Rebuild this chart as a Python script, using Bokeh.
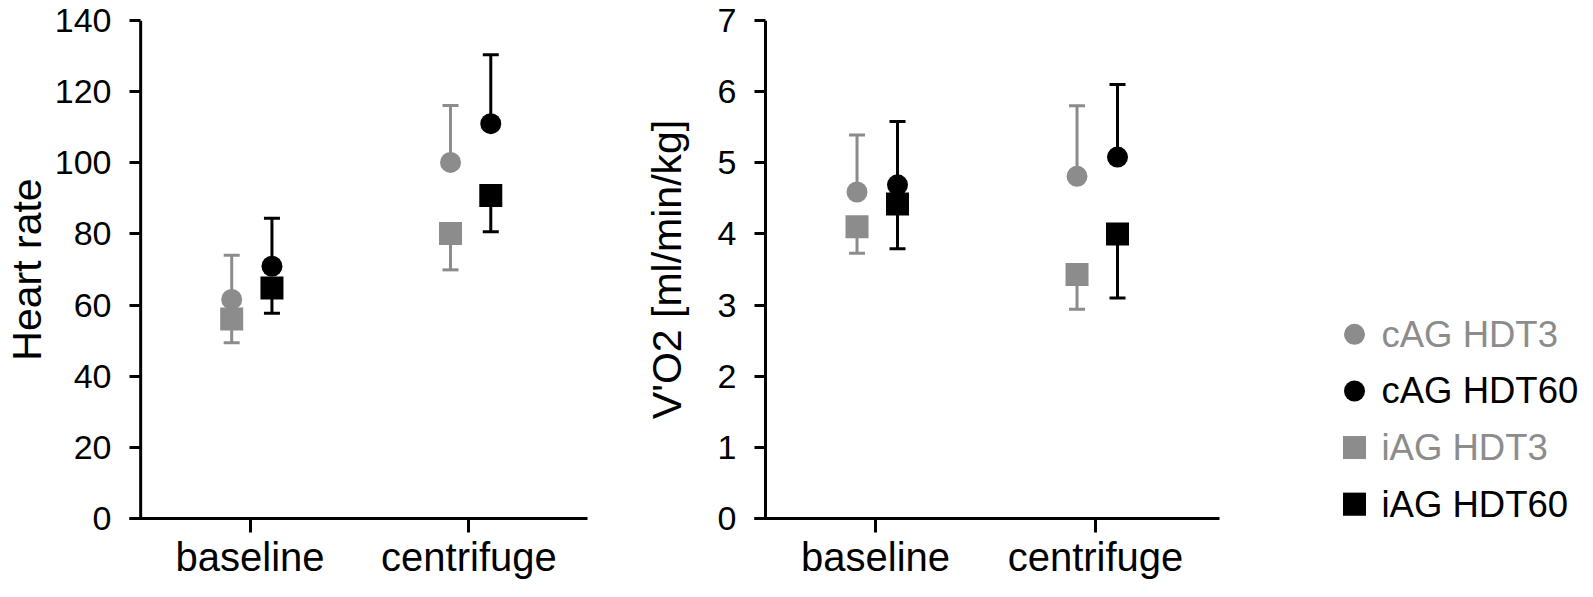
from bokeh.plotting import figure
from bokeh.models import Range1d, Span, Whisker, TeeHead, ColumnDataSource, FixedTicker
from bokeh.layouts import row
from bokeh.embed import file_html
from bokeh.resources import INLINE
from bokeh.core.properties import value

# ---------------- data ----------------
categories = ["baseline", "centrifuge"]
series_names = ["cAG HDT3", "cAG HDT60", "iAG HDT3", "iAG HDT60"]

# Heart rate (mean, SD)
hr_cag_hdt3 = [61.6, 100.1]
hr_cag_hdt3_sd = [12.4, 16.0]
hr_cag_hdt60 = [70.9, 111.0]
hr_cag_hdt60_sd = [13.5, 19.4]
hr_iag_hdt3 = [56.1, 80.1]
hr_iag_hdt3_sd = [6.7, 10.2]
hr_iag_hdt60 = [64.8, 90.8]
hr_iag_hdt60_sd = [7.1, 10.2]

# V'O2 (mean, SD)
vo2_cag_hdt3 = [4.59, 4.81]
vo2_cag_hdt3_sd = [0.80, 0.99]
vo2_cag_hdt60 = [4.69, 5.08]
vo2_cag_hdt60_sd = [0.89, 1.02]
vo2_iag_hdt3 = [4.10, 3.43]
vo2_iag_hdt3_sd = [0.37, 0.49]
vo2_iag_hdt60 = [4.42, 4.00]
vo2_iag_hdt60_sd = [0.63, 0.90]

hr_ticks = [0, 20, 40, 60, 80, 100, 120, 140]
vo2_ticks = [0, 1, 2, 3, 4, 5, 6, 7]

# ---------------- styles ----------------
FONT = "Liberation Sans"
GRAY = "#8c8c8c"
BLACK = "#000000"
series_colors = [GRAY, BLACK, GRAY, BLACK]
series_markers = ["circle", "circle", "square", "square"]
series_sizes = [21, 21, 23, 23]
series_offsets = [-0.084, 0.10, -0.084, 0.10]
series_err_up = [True, True, False, False]

PAGE = 8
BORDER_TOP = 20
BORDER_BOTTOM = 62
HEIGHT = 581
FRAME_H = HEIGHT - BORDER_TOP - BORDER_BOTTOM


def panel(means_list, sd_list, y_end, ticks, ylabel, x_start, x_end, frame_w,
          border_left, label_standoff):
    p = figure(width=border_left + frame_w + 10, height=HEIGHT,
               x_range=Range1d(x_start, x_end), y_range=Range1d(0, y_end),
               output_backend="svg", toolbar_location=None,
               min_border_left=border_left, min_border_right=10,
               min_border_top=BORDER_TOP, min_border_bottom=BORDER_BOTTOM)
    p.outline_line_color = None
    p.xgrid.visible = False
    p.ygrid.visible = False
    p.background_fill_color = "white"
    p.border_fill_color = "white"

    xs_base = [i + 1 for i in range(len(categories))]
    for i, name in enumerate(series_names):
        means = means_list[i]
        sds = sd_list[i]
        color = series_colors[i]
        xs = [x + series_offsets[i] for x in xs_base]
        if series_err_up[i]:
            lower = list(means)
            upper = [m + s for m, s in zip(means, sds)]
        else:
            lower = [m - s for m, s in zip(means, sds)]
            upper = list(means)
        src = ColumnDataSource(dict(x=xs, y=means, lower=lower, upper=upper))
        head = TeeHead(size=16, line_width=3, line_color=color)
        w = Whisker(base="x", lower="lower", upper="upper", source=src,
                    dimension="height", line_width=3, line_color=color,
                    level="underlay",
                    upper_head=head if series_err_up[i] else None,
                    lower_head=None if series_err_up[i] else head)
        p.add_layout(w)
        p.scatter("x", "y", source=src, marker=series_markers[i],
                  size=series_sizes[i], fill_color=color, line_color=None)

    # y axis line drawn as a span so that the x axis extends left of it
    p.add_layout(Span(location=0.5, dimension="height", line_width=3,
                      line_color="black"))

    xa = p.xaxis[0]
    xa.ticker = FixedTicker(ticks=xs_base)
    xa.major_label_overrides = {x: c for x, c in zip(xs_base, categories)}
    xa.minor_tick_line_color = None
    xa.axis_line_width = 3
    xa.axis_line_color = "black"
    xa.major_tick_line_width = 3
    xa.major_tick_line_color = "black"
    xa.major_tick_out = 14
    xa.major_tick_in = 0
    xa.major_label_standoff = 2
    xa.major_label_text_font = FONT
    xa.major_label_text_font_size = "40px"
    xa.major_label_text_color = "black"

    ya = p.yaxis[0]
    ya.ticker = FixedTicker(ticks=ticks)
    ya.minor_tick_line_color = None
    ya.axis_line_color = None
    ya.major_tick_in = 11
    ya.major_tick_out = 0
    ya.major_tick_line_width = 3
    ya.major_tick_line_color = "black"
    ya.major_label_standoff = 18
    ya.major_label_text_font = FONT
    ya.major_label_text_font_size = "34px"
    ya.major_label_text_color = "black"
    ya.axis_label = ylabel
    ya.axis_label_text_font = FONT
    ya.axis_label_text_font_size = "41px"
    ya.axis_label_text_font_style = "normal"
    ya.axis_label_text_color = "black"
    ya.axis_label_standoff = label_standoff
    return p


p1 = panel([hr_cag_hdt3, hr_cag_hdt60, hr_iag_hdt3, hr_iag_hdt60],
           [hr_cag_hdt3_sd, hr_cag_hdt60_sd, hr_iag_hdt3_sd, hr_iag_hdt60_sd],
           140, hr_ticks, "Heart rate", 0.449, 2.542, 464, 123, 2)
p2 = panel([vo2_cag_hdt3, vo2_cag_hdt60, vo2_iag_hdt3, vo2_iag_hdt60],
           [vo2_cag_hdt3_sd, vo2_cag_hdt60_sd, vo2_iag_hdt3_sd, vo2_iag_hdt60_sd],
           7, vo2_ticks, "V'O2 [ml/min/kg]", 0.45, 2.5636, 465, 157, 25)

# ---------------- legend panel (data units = page pixels) ----------------
LX0 = PAGE + p1.width + p2.width
LW = 352
frame_top = PAGE + BORDER_TOP
frame_bottom = frame_top + FRAME_H
lg = figure(width=LW, height=HEIGHT, x_range=Range1d(LX0, LX0 + LW),
            y_range=Range1d(frame_bottom, frame_top), output_backend="svg",
            toolbar_location=None, min_border_left=0, min_border_right=0,
            min_border_top=BORDER_TOP, min_border_bottom=BORDER_BOTTOM,
            x_axis_location=None, y_axis_location=None)
lg.outline_line_color = None
lg.xgrid.visible = False
lg.ygrid.visible = False
row_y = [342.5 + 56.7 * i for i in range(len(series_names))]
marker_x = 1362
text_x = 1389
for i, name in enumerate(series_names):
    lg.scatter([marker_x], [row_y[i]], marker=series_markers[i],
               size=series_sizes[i], fill_color=series_colors[i],
               line_color=None)
lsrc = ColumnDataSource(dict(x=[text_x] * len(series_names), y=row_y,
                             text=series_names, color=series_colors))
lg.text("x", "y", text="text", source=lsrc, text_color="color",
        text_font=value(FONT), text_font_size=value("36.5px"),
        text_baseline="middle", text_align="left")

layout = row(p1, p2, lg)
open("out.html", "w").write(file_html(layout, INLINE))
